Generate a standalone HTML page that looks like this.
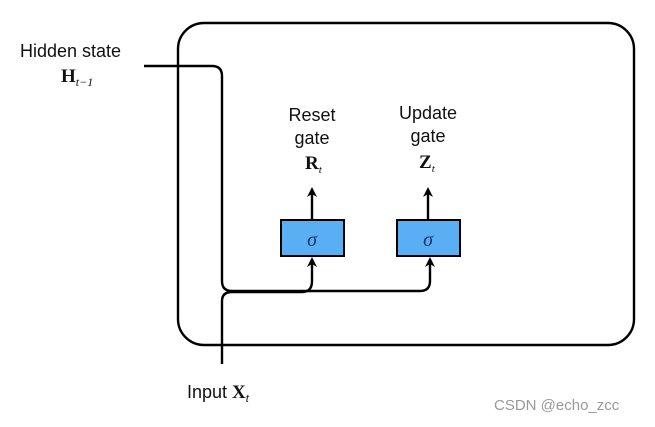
<!DOCTYPE html>
<html><head><style>
body{margin:0;background:#fff;width:655px;height:422px;overflow:hidden}
text{font-family:"Liberation Sans",sans-serif;fill:#111}
.m{font-family:"Liberation Serif",serif;font-weight:bold}
</style></head><body>
<svg width="655" height="422" viewBox="0 0 655 422">
<defs><marker id="a" markerWidth="10" markerHeight="10" refX="5" refY="5" orient="auto" markerUnits="userSpaceOnUse"><path d="M0,0 L10,5 L0,10 L3,5 Z" fill="#000"/></marker></defs>
<g fill="none" stroke="#000" stroke-width="2.4">
<rect x="178" y="23" width="456" height="322" rx="26"/>
<path d="M144 66 H212 Q222 66 222 76 V281 Q222 291 232 291 H420 Q430 291 430 281 V262" marker-end="url(#a)"/>
<path d="M222 364 V301 Q222 292 232 292 H302 Q312 292 312 281 V262" marker-end="url(#a)"/>
<path d="M312 219 V192" marker-end="url(#a)"/>
<path d="M428 219 V192" marker-end="url(#a)"/>
</g>
<rect x="281" y="220" width="63" height="36" fill="#5aaef3" stroke="#000" stroke-width="2"/>
<rect x="397" y="220" width="63" height="36" fill="#5aaef3" stroke="#000" stroke-width="2"/>
<text x="312" y="246" font-size="20" text-anchor="middle" font-style="italic" fill="#1a3a6a" style="font-family:'Liberation Serif',serif;fill:#1a3a6a">σ</text>
<text x="428" y="246" font-size="20" text-anchor="middle" font-style="italic" style="font-family:'Liberation Serif',serif;fill:#1a3a6a">σ</text>
<text x="312" y="121" font-size="18" text-anchor="middle">Reset</text>
<text x="312" y="144" font-size="18" text-anchor="middle">gate</text>
<text x="305" y="169" font-size="19" class="m">R<tspan font-size="11" font-style="italic" font-weight="normal" dy="4">t</tspan></text>
<text x="428" y="119" font-size="18" text-anchor="middle">Update</text>
<text x="428" y="142" font-size="18" text-anchor="middle">gate</text>
<text x="419" y="168" font-size="19" class="m">Z<tspan font-size="11" font-style="italic" font-weight="normal" dy="4">t</tspan></text>
<text x="20" y="57" font-size="18">Hidden state</text>
<text x="61" y="82" font-size="19" class="m">H<tspan font-size="12" font-style="italic" font-weight="normal" dy="4">t−1</tspan></text>
<text x="187" y="398" font-size="18">Input <tspan class="m" font-size="19">X</tspan><tspan font-size="11" font-style="italic" dy="4">t</tspan></text>
<text x="494" y="410" font-size="15" style="fill:#999">CSDN @echo_zcc</text>
</svg>
</body></html>
